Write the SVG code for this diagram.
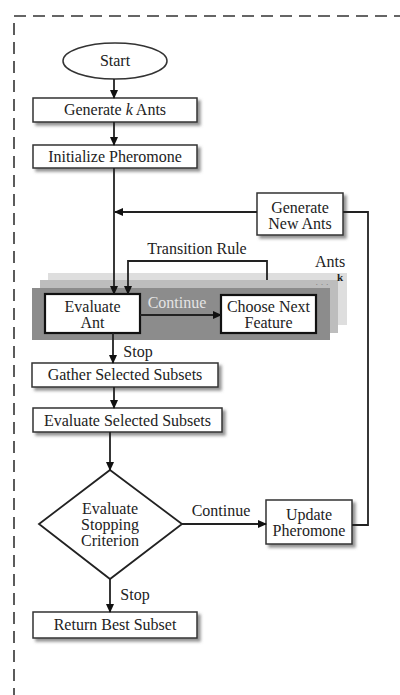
<svg xmlns="http://www.w3.org/2000/svg" width="400" height="695" viewBox="0 0 400 695">
<style>
text{font-family:"Liberation Serif","Times New Roman",serif;font-size:16px;fill:#222;text-anchor:middle}
.box{fill:#fff;stroke:#333;stroke-width:1.5}
.bold{fill:#fff;stroke:#111;stroke-width:2.2}
.sh{filter:url(#ds)}
.c{fill:none;stroke:#222;stroke-width:1.8}
.a{marker-end:url(#ah)}
</style>
<defs>
<filter id="ds" x="-10%" y="-20%" width="130%" height="160%">
<feDropShadow dx="3" dy="3" stdDeviation="1.5" flood-color="#666" flood-opacity="0.7"/>
</filter>
<marker id="ah" markerUnits="userSpaceOnUse" markerWidth="9" markerHeight="8" refX="8" refY="4" orient="auto">
<path d="M0,0 L9,4 L0,8 Z" fill="#111"/>
</marker>
</defs>
<rect x="14" y="16" width="420" height="720" fill="none" stroke="#333" stroke-width="1.6" stroke-dasharray="12,7"/>
<g id="ants-stack">
<rect x="48" y="273" width="299" height="52" fill="#dedede"/>
<rect x="40" y="280" width="298" height="53" fill="#bdbdbd"/>
<rect x="32" y="288" width="298" height="52" fill="#8c8c8c"/>
<text x="322" y="287" style="font-size:9px;fill:#777">· · ·</text>
<text x="330" y="267">Ants</text>
<text x="340" y="281" style="font-size:11px;font-weight:bold">k</text>
<text x="177" y="308" style="fill:#e4e4e4">Continue</text>
</g>
<g id="start"><ellipse cx="115" cy="61" rx="52" ry="18" class="box"/><text x="115" y="66">Start</text></g>
<g id="gen-k"><rect x="33" y="98" width="164" height="24" class="box sh"/><text x="115" y="115">Generate <tspan font-style="italic">k</tspan> Ants</text></g>
<g id="init"><rect x="33" y="145" width="164" height="23" class="box sh"/><text x="115" y="162">Initialize Pheromone</text></g>
<g id="gen-new"><rect x="257" y="193" width="86" height="42" class="box sh"/><text x="300" y="213">Generate</text><text x="300" y="229">New Ants</text></g>
<g id="eval-ant"><rect x="45" y="294" width="95" height="39" class="bold"/><text x="92.5" y="312">Evaluate</text><text x="92.5" y="328">Ant</text></g>
<g id="choose"><rect x="221" y="295" width="95" height="38" class="bold"/><text x="268.5" y="312">Choose Next</text><text x="268.5" y="328">Feature</text></g>
<g id="gather"><rect x="32" y="363" width="186" height="24" class="box sh"/><text x="125" y="380">Gather Selected Subsets</text></g>
<g id="eval-sel"><rect x="33" y="408" width="189" height="24" class="box sh"/><text x="127.5" y="426">Evaluate Selected Subsets</text></g>
<g id="criterion"><polygon points="110,470 182,524 110,579 39,524" fill="#fff" stroke="#222" stroke-width="1.8"/><text x="110" y="514">Evaluate</text><text x="110" y="530">Stopping</text><text x="110" y="546">Criterion</text></g>
<g id="update"><rect x="266" y="500" width="86" height="44" class="box sh"/><text x="309" y="520">Update</text><text x="309" y="536">Pheromone</text></g>
<g id="return"><rect x="33" y="612" width="164" height="26" class="box sh"/><text x="115" y="630">Return Best Subset</text></g>
<g id="connectors">
<path class="c a" d="M114,79 V98"/>
<path class="c a" d="M114,122 V145"/>
<path class="c a" d="M114,168 V294"/>
<path class="c a" d="M257,212 H115"/>
<path class="c a" d="M267,280 V261 H128 V294"/>
<path class="c a" d="M140,315 H221"/>
<path class="c a" d="M113,333 V363"/>
<path class="c a" d="M114,387 V408"/>
<path class="c a" d="M110,432 V470"/>
<path class="c a" d="M182,524 H266"/>
<path class="c a" d="M110,579 V612"/>
<path class="c" d="M352,525 H368 V212 H343"/>
<text x="197" y="254">Transition Rule</text>
<text x="138" y="357">Stop</text>
<text x="221" y="516">Continue</text>
<text x="135" y="600">Stop</text>
</g>
</svg>
